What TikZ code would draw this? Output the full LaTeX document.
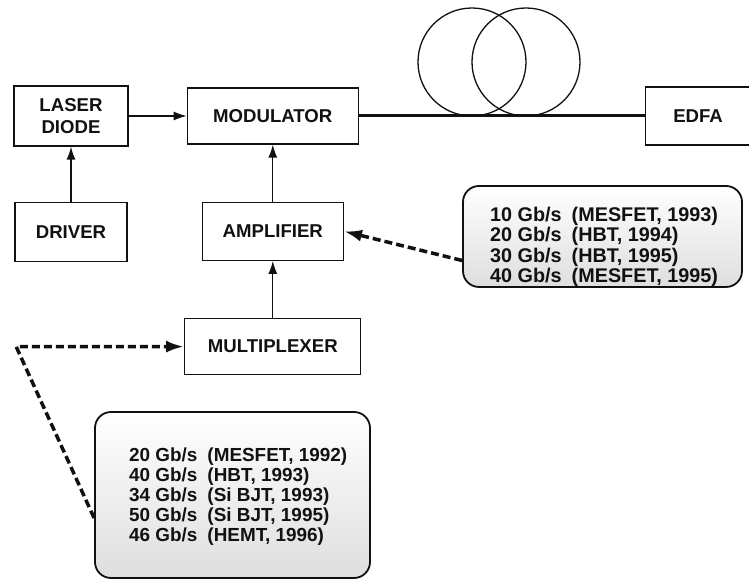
\documentclass[tikz,border=0pt]{standalone}
\usepackage{fontspec}
\setmainfont{Liberation Sans}
\usetikzlibrary{arrows.meta, positioning, calc}
\definecolor{txdark}{HTML}{111111}
\definecolor{txshade}{HTML}{DEDEDE}
\tikzset{
  blk/.style={rectangle, draw=txdark, line width=1.3pt, minimum width=114pt, minimum height=58pt,
    font=\fontsize{18.6}{22}\selectfont\bfseries, align=center, text=txdark, inner sep=2pt},
  infobox/.style={rectangle, rounded corners=16pt, draw=txdark, line width=1.8pt,
    top color=white, middle color=white, bottom color=txshade},
  listtxt/.style={inner sep=0pt, text=txdark, align=left},
  arr/.style={-{Latex[length=13pt, width=9pt]}, line width=1.3pt, txdark},
  dasharr/.style={-{Latex[length=18pt, width=12pt]}, line width=3.5pt, txdark,
    dash pattern=on 8pt off 4pt},
  fiber/.style={line width=3pt, txdark},
}

\begin{document}
\begin{tikzpicture}[x=1pt, y=1pt]
    \useasboundingbox (0,0) rectangle (749,585);

    \node[blk, minimum height=60pt] (laser) at (71,469) {LASER\\DIODE};
    \node[blk, right=58pt of laser, minimum width=171pt, minimum height=56pt] (mod) {MODULATOR};
    \node[blk, right=286pt of mod, minimum width=105pt] (edfa) {EDFA};
    \node[blk, below=55pt of laser, minimum width=112pt, minimum height=59pt] (driver) {DRIVER};
    \node[blk, below=57pt of mod, minimum width=141pt] (amp) {AMPLIFIER};
    \node[blk, below=57pt of amp, minimum width=176pt, minimum height=56pt] (mux) {MULTIPLEXER};

    \draw[line width=1.3pt, txdark] (472,523) circle (54);
    \draw[line width=1.3pt, txdark] (526,523) circle (54);
    \draw[fiber] (mod.east) -- (edfa.west);

    \draw[arr] (laser.east) -- (laser.east -| mod.west);
    \draw[arr] (driver.north) -- (laser.south);
    \draw[arr] (amp.north) -- (mod.south);
    \draw[arr] (mux.north) -- (amp.south);

    \node[infobox, minimum width=279pt, minimum height=101pt] (fast) at (602.5,348.5) {};
    \node[listtxt, anchor=west, font=\fontsize{19.8}{20}\selectfont\bfseries] (fasttxt) at (490,337) {%
      \begin{tabular}{@{}l@{\hspace{10pt}}l@{}}
        10 Gb/s & (MESFET, 1993)\\
        20 Gb/s & (HBT, 1994)\\
        30 Gb/s & (HBT, 1995)\\
        40 Gb/s & (MESFET, 1995)
      \end{tabular}};

    \node[infobox, minimum width=275pt, minimum height=166pt] (slow) at (232.5,90) {};
    \node[listtxt, anchor=west, font=\fontsize{18.9}{20}\selectfont\bfseries] (slowtxt) at (129,87) {%
      \begin{tabular}{@{}l@{\hspace{10pt}}l@{}}
        20 Gb/s & (MESFET, 1992)\\
        40 Gb/s & (HBT, 1993)\\
        34 Gb/s & (Si BJT, 1993)\\
        50 Gb/s & (Si BJT, 1995)\\
        46 Gb/s & (HEMT, 1996)
      \end{tabular}};

    \coordinate[left=168pt of mux.west] (mxbend);
    \draw[dasharr] ([yshift=-24pt]fast.west) -- (amp.east);
    \draw[dasharr] ([yshift=-23pt]slow.west) -- (mxbend) -- (mux.west);
  \end{tikzpicture}
\end{document}
